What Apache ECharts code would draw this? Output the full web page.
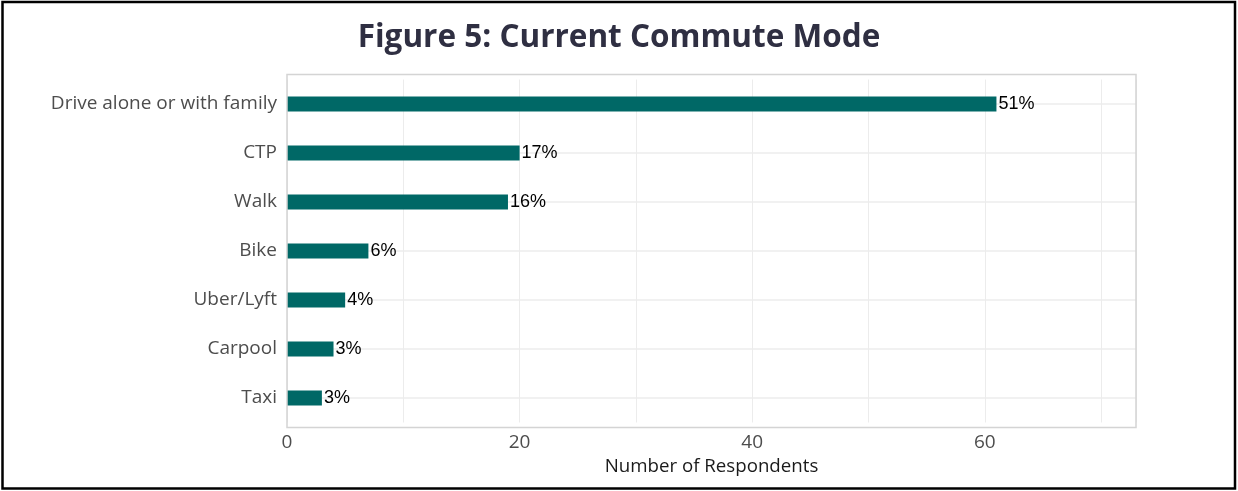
<!DOCTYPE html>
<html>
<head>
<meta charset="utf-8">
<style>
  html, body { margin: 0; padding: 0; background: #ffffff; }
  #chart { width: 1238px; height: 491px; }
</style>
<script src="https://cdn.jsdelivr.net/npm/echarts@6/dist/echarts.min.js"></script>
</head>
<body>
<div id="chart"></div>
<script>
// Commute modes, top to bottom as listed on the chart
const categories = ['Drive alone or with family', 'CTP', 'Walk', 'Bike', 'Uber/Lyft', 'Carpool', 'Taxi'];
// Number of respondents per mode
const respondents = [61, 20, 19, 7, 5, 4, 3];
const xTickLabels = [0, 20, 40, 60];

const total = respondents.reduce((a, b) => a + b, 0);
const shares = respondents.map(v => Math.round(v / total * 100) + '%');

// category axis runs bottom-up, so reverse for a top-down list
const cats = categories.slice().reverse();
const vals = respondents.slice().reverse();
const labs = shares.slice().reverse();

const GRID_LEFT = 287, GRID_RIGHT = 102, GRID_TOP = 79.5, GRID_BOTTOM = 68.5;
const labelFont = '"Open Sans", Lato, sans-serif';

const chart = echarts.init(document.getElementById('chart'), null, { renderer: 'canvas' });

const option = {
  animation: false,
  backgroundColor: '#ffffff',
  title: {
    text: 'Figure 5: Current Commute Mode',
    left: 'center',
    top: 17,
    textStyle: { fontFamily: labelFont, fontWeight: 'bold', fontSize: 31.5, color: '#2f2f42' }
  },
  grid: { left: GRID_LEFT, right: GRID_RIGHT, top: GRID_TOP, bottom: GRID_BOTTOM, containLabel: false },
  xAxis: {
    type: 'value',
    min: 0,
    max: 73,
    interval: 10,
    name: 'Number of Respondents',
    nameLocation: 'middle',
    nameGap: 33,
    nameTextStyle: { fontFamily: labelFont, fontSize: 18.7, color: '#1a1a1a' },
    axisLine: { show: false },
    axisTick: { show: false },
    axisLabel: {
      margin: 11,
      fontFamily: labelFont, fontSize: 19, color: '#4d4d4d',
      showMaxLabel: false,
      formatter: v => (xTickLabels.indexOf(v) >= 0 ? String(v) : '')
    },
    splitLine: { show: true, lineStyle: { color: '#ececec', width: 1 } }
  },
  yAxis: {
    type: 'category',
    data: cats,
    axisLine: { show: false },
    axisTick: { show: false },
    axisLabel: { margin: 10, fontFamily: labelFont, fontSize: 19, color: '#4d4d4d' },
    splitLine: { show: false }
  },
  series: [
    {
      // horizontal guide lines through each category
      type: 'line',
      data: [],
      silent: true,
      markLine: {
        silent: true,
        z: 1,
        symbol: ['none', 'none'],
        label: { show: false },
        lineStyle: { color: '#ececec', width: 1.5, type: 'solid' },
        data: cats.map(c => ({ yAxis: c }))
      }
    },
    {
      type: 'bar',
      z: 3,
      data: vals,
      barWidth: 15,
      itemStyle: { color: '#006866' },
      label: {
        show: true,
        position: 'right',
        distance: 2,
        fontFamily: '"Liberation Sans", Arial, sans-serif',
        fontSize: 18,
        color: '#000000',
        formatter: p => labs[p.dataIndex]
      }
    }
  ]
};

chart.setOption(option);

// Panel frame: extends 0.6 of a category band beyond the first and last bars
const yTop = chart.convertToPixel({ yAxisIndex: 0 }, cats[cats.length - 1]);
const yBot = chart.convertToPixel({ yAxisIndex: 0 }, cats[0]);
const band = (yBot - yTop) / (cats.length - 1);
const xL = chart.convertToPixel({ xAxisIndex: 0 }, 0);
const xR = chart.convertToPixel({ xAxisIndex: 0 }, 73);

chart.setOption({
  graphic: [
    {
      type: 'rect',
      silent: true,
      z: 10,
      shape: { x: xL, y: yTop - 0.6 * band, width: xR - xL, height: (yBot - yTop) + 1.2 * band },
      style: { fill: 'none', stroke: '#d4d4d4', lineWidth: 1.5 }
    },
    {
      // outer figure border
      type: 'rect',
      silent: true,
      z: 10,
      shape: { x: 2.5, y: 2, width: 1232.5, height: 486.5 },
      style: { fill: 'none', stroke: '#000000', lineWidth: 2.5 }
    }
  ]
});
</script>
</body>
</html>
